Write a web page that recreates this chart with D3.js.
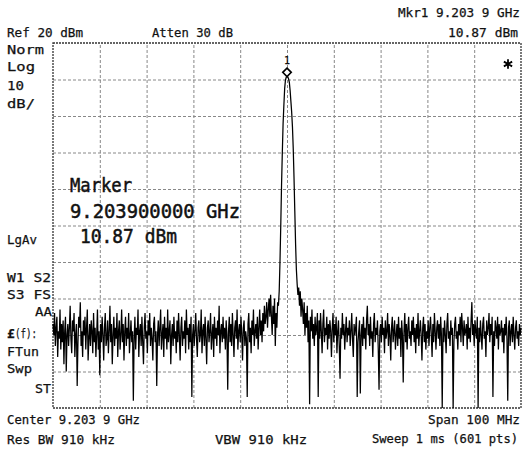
<!DOCTYPE html>
<html lang="en">
<head>
    <meta charset="utf-8">
    <title>Spectrum trace</title>
    <script type="text/javascript" src="https://d3js.org/d3.v7.min.js"></script>
    <style>
        body { margin: 0; background: #fff; }
        text { font-family: "DejaVu Sans Mono", monospace; fill: #111; stroke: #111; stroke-width: 0.25; }
    </style>
</head>
<body>
    <div id="chart"></div>

    <script type="text/javascript">
        // instrument settings
        const centerMHz = 9203.9;
        const spanMHz = 100;
        const refLevel = 20;
        const dbPerDiv = 10;
        const gridDivs = 10;
        const markerMHz = 9203.9;
        const markerLevel = 10.87;

        // sweep trace, dBm, 601 points
        const trace = [
            -57,-60,-54,-63,-58,-55,-66,-59,-61,-53,-64,-57,-62,-56,-68,-59,-55,-70,-60,-57,
            -63,-58,-52,-61,-65,-56,-59,-54,-66,-60,-57,-74,-62,-55,-58,-51,-63,-59,-66,-56,
            -60,-55,-64,-58,-53,-67,-61,-57,-63,-56,-59,-65,-54,-62,-58,-66,-60,-53,-64,-59,
            -71,-57,-62,-55,-60,-67,-58,-54,-63,-61,-56,-65,-59,-52,-62,-57,-68,-60,-55,-63,
            -58,-61,-54,-66,-59,-56,-64,-60,-53,-62,-57,-67,-59,-55,-63,-58,-61,-54,-65,-60,
            -56,-62,-59,-78,-61,-55,-64,-58,-60,-53,-66,-59,-57,-63,-55,-62,-68,-58,-54,-61,
            -59,-65,-56,-60,-54,-63,-58,-61,-67,-57,-55,-62,-59,-74,-60,-56,-63,-58,-53,-64,
            -60,-57,-66,-55,-61,-58,-64,-53,-62,-59,-56,-68,-60,-57,-63,-55,-61,-59,-65,-56,
            -62,-54,-60,-67,-58,-55,-63,-59,-61,-56,-65,-53,-60,-58,-64,-57,-62,-55,-77,-60,
            -57,-63,-59,-54,-61,-66,-58,-56,-62,-60,-53,-65,-59,-57,-63,-55,-61,-68,-58,-56,
            -62,-59,-54,-64,-60,-57,-66,-55,-61,-58,-63,-56,-60,-52,-65,-59,-57,-62,-55,-61,
            -58,-64,-56,-60,-75,-59,-55,-62,-57,-63,-54,-60,-66,-58,-56,-61,-53,-64,-59,-57,
            -62,-55,-60,-67,-58,-56,-63,-59,-61,-77,-57,-54,-62,-58,-65,-56,-60,-53,-63,-59,
            -57,-61,-55,-64,-58,-53,-60,-56,-62,-54,-59,-52,-57,-55,-51,-58,-53,-50,-55,-49,
            -55,-60,-52,-57,-50,-63,-54,-58,-51,-52,-48,-40,-30,-19,-10,-2,3,7.5,9.8,10.6,
            10.87,10.7,10.2,9.2,7,4,1,-3,-9,-17,-26,-35,-42,-46,-49,-47,-52,-48,-55,-50,
            -53,-57,-51,-60,-54,-58,-52,-62,-56,-79,-55,-59,-53,-61,-57,-63,-55,-60,-58,-54,
            -77,-56,-61,-54,-59,-65,-57,-53,-62,-58,-60,-55,-64,-57,-61,-56,-59,-66,-58,-54,
            -62,-57,-60,-55,-65,-59,-56,-63,-72,-58,-61,-54,-60,-57,-64,-59,-55,-62,-58,-60,
            -56,-63,-59,-54,-61,-66,-57,-60,-58,-55,-77,-62,-59,-56,-76,-60,-57,-63,-55,-61,
            -58,-64,-56,-52,-60,-57,-63,-55,-61,-59,-66,-57,-54,-62,-58,-60,-56,-64,-75,-59,
            -57,-62,-55,-60,-58,-65,-56,-61,-59,-54,-63,-57,-60,-67,-58,-55,-62,-59,-56,-64,
            -60,-57,-63,-55,-61,-58,-66,-56,-60,-73,-59,-54,-62,-57,-64,-58,-55,-61,-59,-63,
            -56,-60,-55,-62,-58,-65,-57,-61,-54,-63,-59,-56,-60,-67,-58,-55,-62,-57,-64,-59,
            -61,-56,-63,-58,-55,-60,-66,-57,-62,-54,-59,-64,-58,-56,-61,-57,-63,-55,-60,-80,
            -58,-62,-56,-60,-65,-57,-54,-61,-59,-63,-56,-60,-58,-80,-62,-57,-55,-61,-59,-64,
            -57,-60,-55,-62,-54,-58,-63,-56,-60,-59,-57,-64,-55,-61,-58,-62,-56,-51,-60,-57,
            -63,-56,-59,-61,-55,-80,-58,-62,-56,-60,-64,-57,-55,-61,-59,-66,-56,-60,-58,-54,
            -62,-57,-60,-55,-77,-59,-63,-56,-58,-61,-55,-64,-57,-60,-59,-56,-62,-58,-65,-57,
            -60,-55,-61,-78,-58,-56,-63,-59,-57,-62,-55,-60,-64,-58,-56,-61,-59,-63,-57,-60,
            -58
        ];

        const width = 523;
        const height = 453;
        const margin = {left: 53, right: 2, top: 43, bottom: 45};
        const plotW = width - margin.left - margin.right;
        const plotH = height - margin.top - margin.bottom;

        const svg = d3.select("#chart")
            .append("svg")
            .attr("width", width)
            .attr("height", height);

        svg.append("rect")
            .attr("width", width)
            .attr("height", height)
            .attr("fill", "#fff");

        const startMHz = centerMHz - spanMHz / 2;
        const stopMHz = centerMHz + spanMHz / 2;
        const freqs = trace.map((d, i) => startMHz + i * spanMHz / (trace.length - 1));

        const xScale = d3.scaleLinear()
            .domain([startMHz, stopMHz])
            .range([margin.left, margin.left + plotW]);

        const yScale = d3.scaleLinear()
            .domain([refLevel - gridDivs * dbPerDiv, refLevel])
            .range([margin.top + plotH, margin.top]);

        // graticule
        const xGrid = d3.axisBottom(xScale)
            .tickValues(d3.range(1, gridDivs).map(k => startMHz + k * spanMHz / gridDivs))
            .tickSize(-plotH)
            .tickFormat("");
        const yGrid = d3.axisLeft(yScale)
            .tickValues(d3.range(1, gridDivs).map(k => refLevel - k * dbPerDiv))
            .tickSize(-plotW)
            .tickFormat("");

        svg.append("g")
            .attr("class", "grid x")
            .attr("transform", "translate(0," + (margin.top + plotH) + ")")
            .call(xGrid);
        svg.append("g")
            .attr("class", "grid y")
            .attr("transform", "translate(" + margin.left + ",0)")
            .call(yGrid);

        svg.selectAll(".grid .domain").remove();
        svg.selectAll(".grid line")
            .attr("stroke", "#888")
            .attr("stroke-width", 1)
            .attr("stroke-dasharray", "3,2");

        svg.append("rect")
            .attr("x", margin.left)
            .attr("y", margin.top)
            .attr("width", plotW)
            .attr("height", plotH)
            .attr("fill", "none")
            .attr("stroke", "#333")
            .attr("stroke-width", 1.3)
            .attr("stroke-dasharray", "2,1");

        // trace
        const line = d3.line()
            .x((d, i) => xScale(freqs[i]))
            .y(d => yScale(d));

        svg.append("path")
            .datum(trace)
            .attr("d", line)
            .attr("fill", "none")
            .attr("stroke", "#000")
            .attr("stroke-width", 1.25);

        // marker
        const mx = xScale(markerMHz);
        const my = yScale(markerLevel);
        svg.append("path")
            .attr("d", d3.symbol().type(d3.symbolDiamond2).size(46))
            .attr("transform", "translate(" + mx + "," + (my - 4) + ")")
            .attr("fill", "#fff")
            .attr("stroke", "#000")
            .attr("stroke-width", 1.6);
        svg.append("text")
            .attr("x", mx)
            .attr("y", my - 12)
            .attr("text-anchor", "middle")
            .attr("font-size", 10)
            .text("1");

        svg.append("path")
            .attr("d", d3.symbol().type(d3.symbolAsterisk).size(64))
            .attr("transform", "translate(508,64)")
            .attr("fill", "none")
            .attr("stroke", "#000")
            .attr("stroke-width", 1.8);

        // annotation text
        function label(x, y, str, len, anchor, size) {
            const t = svg.append("text")
                .attr("x", x)
                .attr("y", y)
                .attr("font-size", size || 13)
                .attr("text-anchor", anchor || "start")
                .text(str);
            if (len) t.attr("textLength", len).attr("lengthAdjust", "spacingAndGlyphs");
            return t;
        }

        label(7, 37, "Ref 20 dBm", 76);
        label(152, 37, "Atten 30 dB", 81);
        label(520, 17, "Mkr1  9.203 9 GHz", 122, "end", 12.5);
        label(518, 37, "10.87 dBm", 70, "end");

        label(7, 54, "Norm", 37);
        label(7, 71, "Log", 28);
        label(7, 90, "10", 17);
        label(7, 108, "dB/", 28);
        label(7, 244, "LgAv", 30);
        label(7, 282, "W1  S2", 44);
        label(7, 299, "S3  FS", 44);
        label(52, 316, "AA", 17, "end");
        label(7, 338, "£", null, "start").attr("font-weight", "bold");
        label(15, 338, "(f):", 22);
        label(7, 356, "FTun", 32);
        label(7, 373, "Swp", 25);
        label(51, 393, "ST", 16, "end");

        label(7, 424, "Center 9.203 9 GHz", 133, "start", 12.5);
        label(7, 444, "Res BW 910 kHz", 108);
        label(215, 444, "VBW 910 kHz", 92);
        label(520, 424, "Span 100 MHz", 92, "end");
        label(518, 443, "Sweep 1 ms (601 pts)", 146, "end", 12);

        label(70, 192, "Marker", 62, "start", 20).style("stroke-width", 0.5);
        label(70, 218, "9.203900000 GHz", 170, "start", 20).style("stroke-width", 0.5);
        label(80, 243, "10.87 dBm", 97, "start", 20).style("stroke-width", 0.5);
    </script>
</body>
</html>
